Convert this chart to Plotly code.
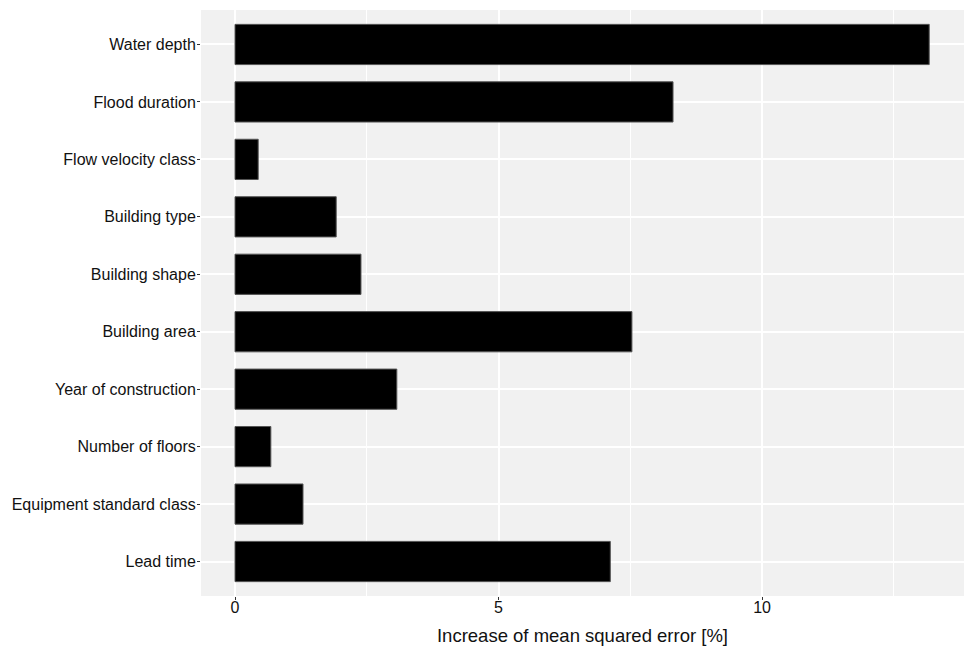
import plotly.graph_objects as go

# variable importance, top to bottom as shown
variables = ["Water depth", "Flood duration", "Flow velocity class", "Building type",
             "Building shape", "Building area", "Year of construction",
             "Number of floors", "Equipment standard class", "Lead time"]
mse_increase = [13.17, 8.31, 0.44, 1.92, 2.39, 7.53, 3.07, 0.68, 1.29, 7.12]

# plotly draws categories bottom-up, so reverse
cats = variables[::-1]
vals = mse_increase[::-1]

fig = go.Figure()
fig.add_trace(go.Bar(
    x=vals, y=cats, orientation="h",
    width=0.7,
    marker=dict(color="black", line=dict(color="#555555", width=1)),
    showlegend=False,
))

# page body has an 8px margin, so the figure is sized to fit inside it
fig.update_layout(
    width=966, height=649,
    margin=dict(l=193, r=10, t=2, b=61),
    paper_bgcolor="white",
    plot_bgcolor="#F1F1F1",
    font=dict(family="Liberation Sans, Arial, sans-serif", size=16, color="#111111"),
)
fig.update_xaxes(
    range=[-0.645, 13.83],
    tickvals=[0, 5, 10],
    ticks="outside", ticklen=3, tickcolor="#333333",
    ticklabelstandoff=-6,
    showgrid=True, gridcolor="white", gridwidth=1.5,
    minor=dict(tickvals=[2.5, 7.5, 12.5], showgrid=True, gridcolor="white", gridwidth=0.8),
    zeroline=False,
    showline=False,
    title=dict(text="Increase of mean squared error [%]", font=dict(size=18.5, color="#111111"), standoff=13),
    tickfont=dict(size=16, color="#111111"),
)
fig.update_yaxes(
    categoryorder="array", categoryarray=cats,
    range=[-0.6, 9.6],
    ticks="outside", ticklen=3, tickcolor="#333333",
    ticklabelstandoff=-2,
    showgrid=True, gridcolor="white", gridwidth=1.5,
    zeroline=False,
    tickfont=dict(size=16, color="#111111"),
)

fig.write_html("out.html")
